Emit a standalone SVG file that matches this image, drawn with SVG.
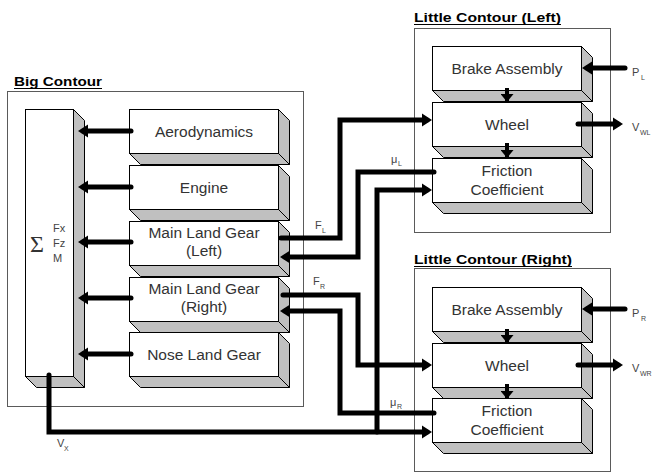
<svg xmlns="http://www.w3.org/2000/svg" width="656" height="473" viewBox="0 0 656 473">
<style>
.frame{fill:#fff;stroke:#5a5a5a;stroke-width:1}
.front{fill:#fff;stroke:#000;stroke-width:1}
.shade{fill:#c0c0c0;stroke:#000;stroke-width:1;stroke-linejoin:miter}
.t{font-family:"Liberation Sans",Arial,sans-serif;font-size:15.5px;fill:#333;text-anchor:middle}
.title{font-family:"Liberation Sans",Arial,sans-serif;font-size:13.5px;font-weight:bold;fill:#000}
.ul{stroke:#000;stroke-width:1.2}
.lbl{font-family:"Liberation Sans",Arial,sans-serif;font-size:11px;fill:#444}
.sub{font-family:"Liberation Sans",Arial,sans-serif;font-size:7px;fill:#444}
.c{fill:none;stroke:#000;stroke-width:5;stroke-linecap:round;stroke-linejoin:miter}
.cs{fill:none;stroke:#000;stroke-width:4;stroke-linecap:butt}
</style>
<defs>
<marker id="ah" markerUnits="userSpaceOnUse" markerWidth="12" markerHeight="14" refX="5" refY="7" orient="auto" viewBox="0 0 10 14">
<path d="M0,0.5 L10,7 L0,13.5 z" fill="#000"/>
</marker>
<marker id="sh" markerUnits="userSpaceOnUse" markerWidth="8" markerHeight="13" refX="8" refY="6.5" orient="auto" viewBox="0 0 8 13">
<path d="M0,0 L8,6.5 L0,13 z" fill="#000"/>
</marker>
</defs>
<rect width="656" height="473" fill="#fff"/>

<!-- Frames -->
<g id="big-contour">
<rect class="frame" x="7.5" y="91.5" width="296" height="315"/>
<text class="title" x="14" y="86" textLength="88" lengthAdjust="spacingAndGlyphs">Big Contour</text>
<line class="ul" x1="14" y1="88.5" x2="102" y2="88.5"/>
</g>
<g id="little-contour-left">
<rect class="frame" x="414.5" y="28.5" width="196" height="204"/>
<text class="title" x="414" y="22" textLength="147" lengthAdjust="spacingAndGlyphs">Little Contour (Left)</text>
<line class="ul" x1="414" y1="24.5" x2="561" y2="24.5"/>
</g>
<g id="little-contour-right">
<rect class="frame" x="414.5" y="268.5" width="196" height="203"/>
<text class="title" x="414" y="264" textLength="158" lengthAdjust="spacingAndGlyphs">Little Contour (Right)</text>
<line class="ul" x1="414" y1="266.5" x2="572" y2="266.5"/>
</g>

<!-- Sum block -->
<g id="sum">
<polygon class="shade" points="73.5,109.5 84.5,120.5 84.5,387.5 73.5,376.5"/>
<polygon class="shade" points="25.5,376.5 73.5,376.5 84.5,387.5 36.5,387.5"/>
<rect class="front" x="25.5" y="109.5" width="48" height="267"/>
<text x="30" y="252" style="font-family:'Liberation Serif',serif;font-size:24px;fill:#333">Σ</text>
<text class="lbl" x="53" y="232">Fx</text>
<text class="lbl" x="53" y="247">Fz</text>
<text class="lbl" x="53" y="262">M</text>
</g>

<!-- Big contour blocks -->
<g id="aerodynamics">
<polygon class="shade" points="278.5,109.5 289.5,120.5 289.5,164.5 278.5,153.5"/>
<polygon class="shade" points="129.5,153.5 278.5,153.5 289.5,164.5 140.5,164.5"/>
<rect class="front" x="129.5" y="109.5" width="149" height="44"/>
<text class="t" x="204" y="137">Aerodynamics</text>
</g>
<g id="engine">
<polygon class="shade" points="278.5,165.5 289.5,176.5 289.5,220.5 278.5,209.5"/>
<polygon class="shade" points="129.5,209.5 278.5,209.5 289.5,220.5 140.5,220.5"/>
<rect class="front" x="129.5" y="165.5" width="149" height="44"/>
<text class="t" x="204" y="193">Engine</text>
</g>
<g id="main-gear-left">
<polygon class="shade" points="278.5,221.5 289.5,232.5 289.5,276.5 278.5,265.5"/>
<polygon class="shade" points="129.5,265.5 278.5,265.5 289.5,276.5 140.5,276.5"/>
<rect class="front" x="129.5" y="221.5" width="149" height="44"/>
<text class="t" x="204" y="238">Main Land Gear</text>
<text class="t" x="204" y="256">(Left)</text>
</g>
<g id="main-gear-right">
<polygon class="shade" points="278.5,277.5 289.5,288.5 289.5,332.5 278.5,321.5"/>
<polygon class="shade" points="129.5,321.5 278.5,321.5 289.5,332.5 140.5,332.5"/>
<rect class="front" x="129.5" y="277.5" width="149" height="44"/>
<text class="t" x="204" y="294">Main Land Gear</text>
<text class="t" x="204" y="312">(Right)</text>
</g>
<g id="nose-gear">
<polygon class="shade" points="278.5,332.5 289.5,343.5 289.5,387.5 278.5,376.5"/>
<polygon class="shade" points="129.5,376.5 278.5,376.5 289.5,387.5 140.5,387.5"/>
<rect class="front" x="129.5" y="332.5" width="149" height="44"/>
<text class="t" x="204" y="360">Nose Land Gear</text>
</g>

<!-- Little contour left blocks -->
<g id="brake-left">
<polygon class="shade" points="581.5,46.5 592.5,57.5 592.5,101.5 581.5,90.5"/>
<polygon class="shade" points="432.5,90.5 581.5,90.5 592.5,101.5 443.5,101.5"/>
<rect class="front" x="432.5" y="46.5" width="149" height="44"/>
<text class="t" x="507" y="74">Brake Assembly</text>
</g>
<g id="wheel-left">
<polygon class="shade" points="581.5,102.5 592.5,113.5 592.5,157.5 581.5,146.5"/>
<polygon class="shade" points="432.5,146.5 581.5,146.5 592.5,157.5 443.5,157.5"/>
<rect class="front" x="432.5" y="102.5" width="149" height="44"/>
<text class="t" x="507" y="130">Wheel</text>
</g>
<g id="friction-left">
<polygon class="shade" points="581.5,158.5 592.5,169.5 592.5,213.5 581.5,202.5"/>
<polygon class="shade" points="432.5,202.5 581.5,202.5 592.5,213.5 443.5,213.5"/>
<rect class="front" x="432.5" y="158.5" width="149" height="44"/>
<text class="t" x="507" y="176">Friction</text>
<text class="t" x="507" y="195">Coefficient</text>
</g>

<!-- Little contour right blocks -->
<g id="brake-right">
<polygon class="shade" points="581.5,287.5 592.5,298.5 592.5,342.5 581.5,331.5"/>
<polygon class="shade" points="432.5,331.5 581.5,331.5 592.5,342.5 443.5,342.5"/>
<rect class="front" x="432.5" y="287.5" width="149" height="44"/>
<text class="t" x="507" y="315">Brake Assembly</text>
</g>
<g id="wheel-right">
<polygon class="shade" points="581.5,343.5 592.5,354.5 592.5,398.5 581.5,387.5"/>
<polygon class="shade" points="432.5,387.5 581.5,387.5 592.5,398.5 443.5,398.5"/>
<rect class="front" x="432.5" y="343.5" width="149" height="44"/>
<text class="t" x="507" y="371">Wheel</text>
</g>
<g id="friction-right">
<polygon class="shade" points="581.5,398.5 592.5,409.5 592.5,453.5 581.5,442.5"/>
<polygon class="shade" points="432.5,442.5 581.5,442.5 592.5,453.5 443.5,453.5"/>
<rect class="front" x="432.5" y="398.5" width="149" height="44"/>
<text class="t" x="507" y="416">Friction</text>
<text class="t" x="507" y="435">Coefficient</text>
</g>

<!-- Connectors -->
<g id="connectors">
<path class="c" d="M131,131 L83,131" marker-end="url(#ah)"/>
<path class="c" d="M131,187 L83,187" marker-end="url(#ah)"/>
<path class="c" d="M131,242 L83,242" marker-end="url(#ah)"/>
<path class="c" d="M131,298 L83,298" marker-end="url(#ah)"/>
<path class="c" d="M131,354 L83,354" marker-end="url(#ah)"/>

<path class="c" d="M281,238 L340,238 L340,120 L427,120" marker-end="url(#ah)"/>
<path class="c" d="M434,172 L358,172 L358,257 L285,257" marker-end="url(#ah)"/>
<path class="c" d="M49,375 L49,432 L427,432" marker-end="url(#ah)"/>
<path class="c" d="M377,432 L377,190 L427,190" marker-end="url(#ah)"/>
<path class="c" d="M283,295 L358,295 L358,365 L427,365" marker-end="url(#ah)"/>
<path class="c" d="M434,413 L340,413 L340,311 L285,311" marker-end="url(#ah)"/>

<path class="c" d="M625,68 L587,68" marker-end="url(#ah)"/>
<path class="c" d="M578,124 L618,124" marker-end="url(#ah)"/>
<path class="c" d="M625,309 L587,309" marker-end="url(#ah)"/>
<path class="c" d="M578,365 L618,365" marker-end="url(#ah)"/>

<path class="cs" d="M507,88 L507,102" marker-end="url(#sh)"/>
<path class="cs" d="M507,143 L507,158" marker-end="url(#sh)"/>
<path class="cs" d="M507,329 L507,343" marker-end="url(#sh)"/>
<path class="cs" d="M507,384 L507,399" marker-end="url(#sh)"/>
</g>

<!-- Signal labels -->
<g id="labels">
<text class="lbl" x="632" y="76">P</text><text class="sub" x="641" y="80">L</text>
<text class="lbl" x="632" y="131">V</text><text class="sub" x="640" y="135">WL</text>
<text class="lbl" x="632" y="317">P</text><text class="sub" x="641" y="321">R</text>
<text class="lbl" x="632" y="372">V</text><text class="sub" x="640" y="376">WR</text>
<text class="lbl" x="315" y="229">F</text><text class="sub" x="322" y="233">L</text>
<text class="lbl" x="391" y="163">μ</text><text class="sub" x="398" y="166">L</text>
<text class="lbl" x="313" y="285">F</text><text class="sub" x="320" y="289">R</text>
<text class="lbl" x="390" y="406">μ</text><text class="sub" x="397" y="409">R</text>
<text class="lbl" x="57" y="447">V</text><text class="sub" x="64" y="451">X</text>
</g>
</svg>
